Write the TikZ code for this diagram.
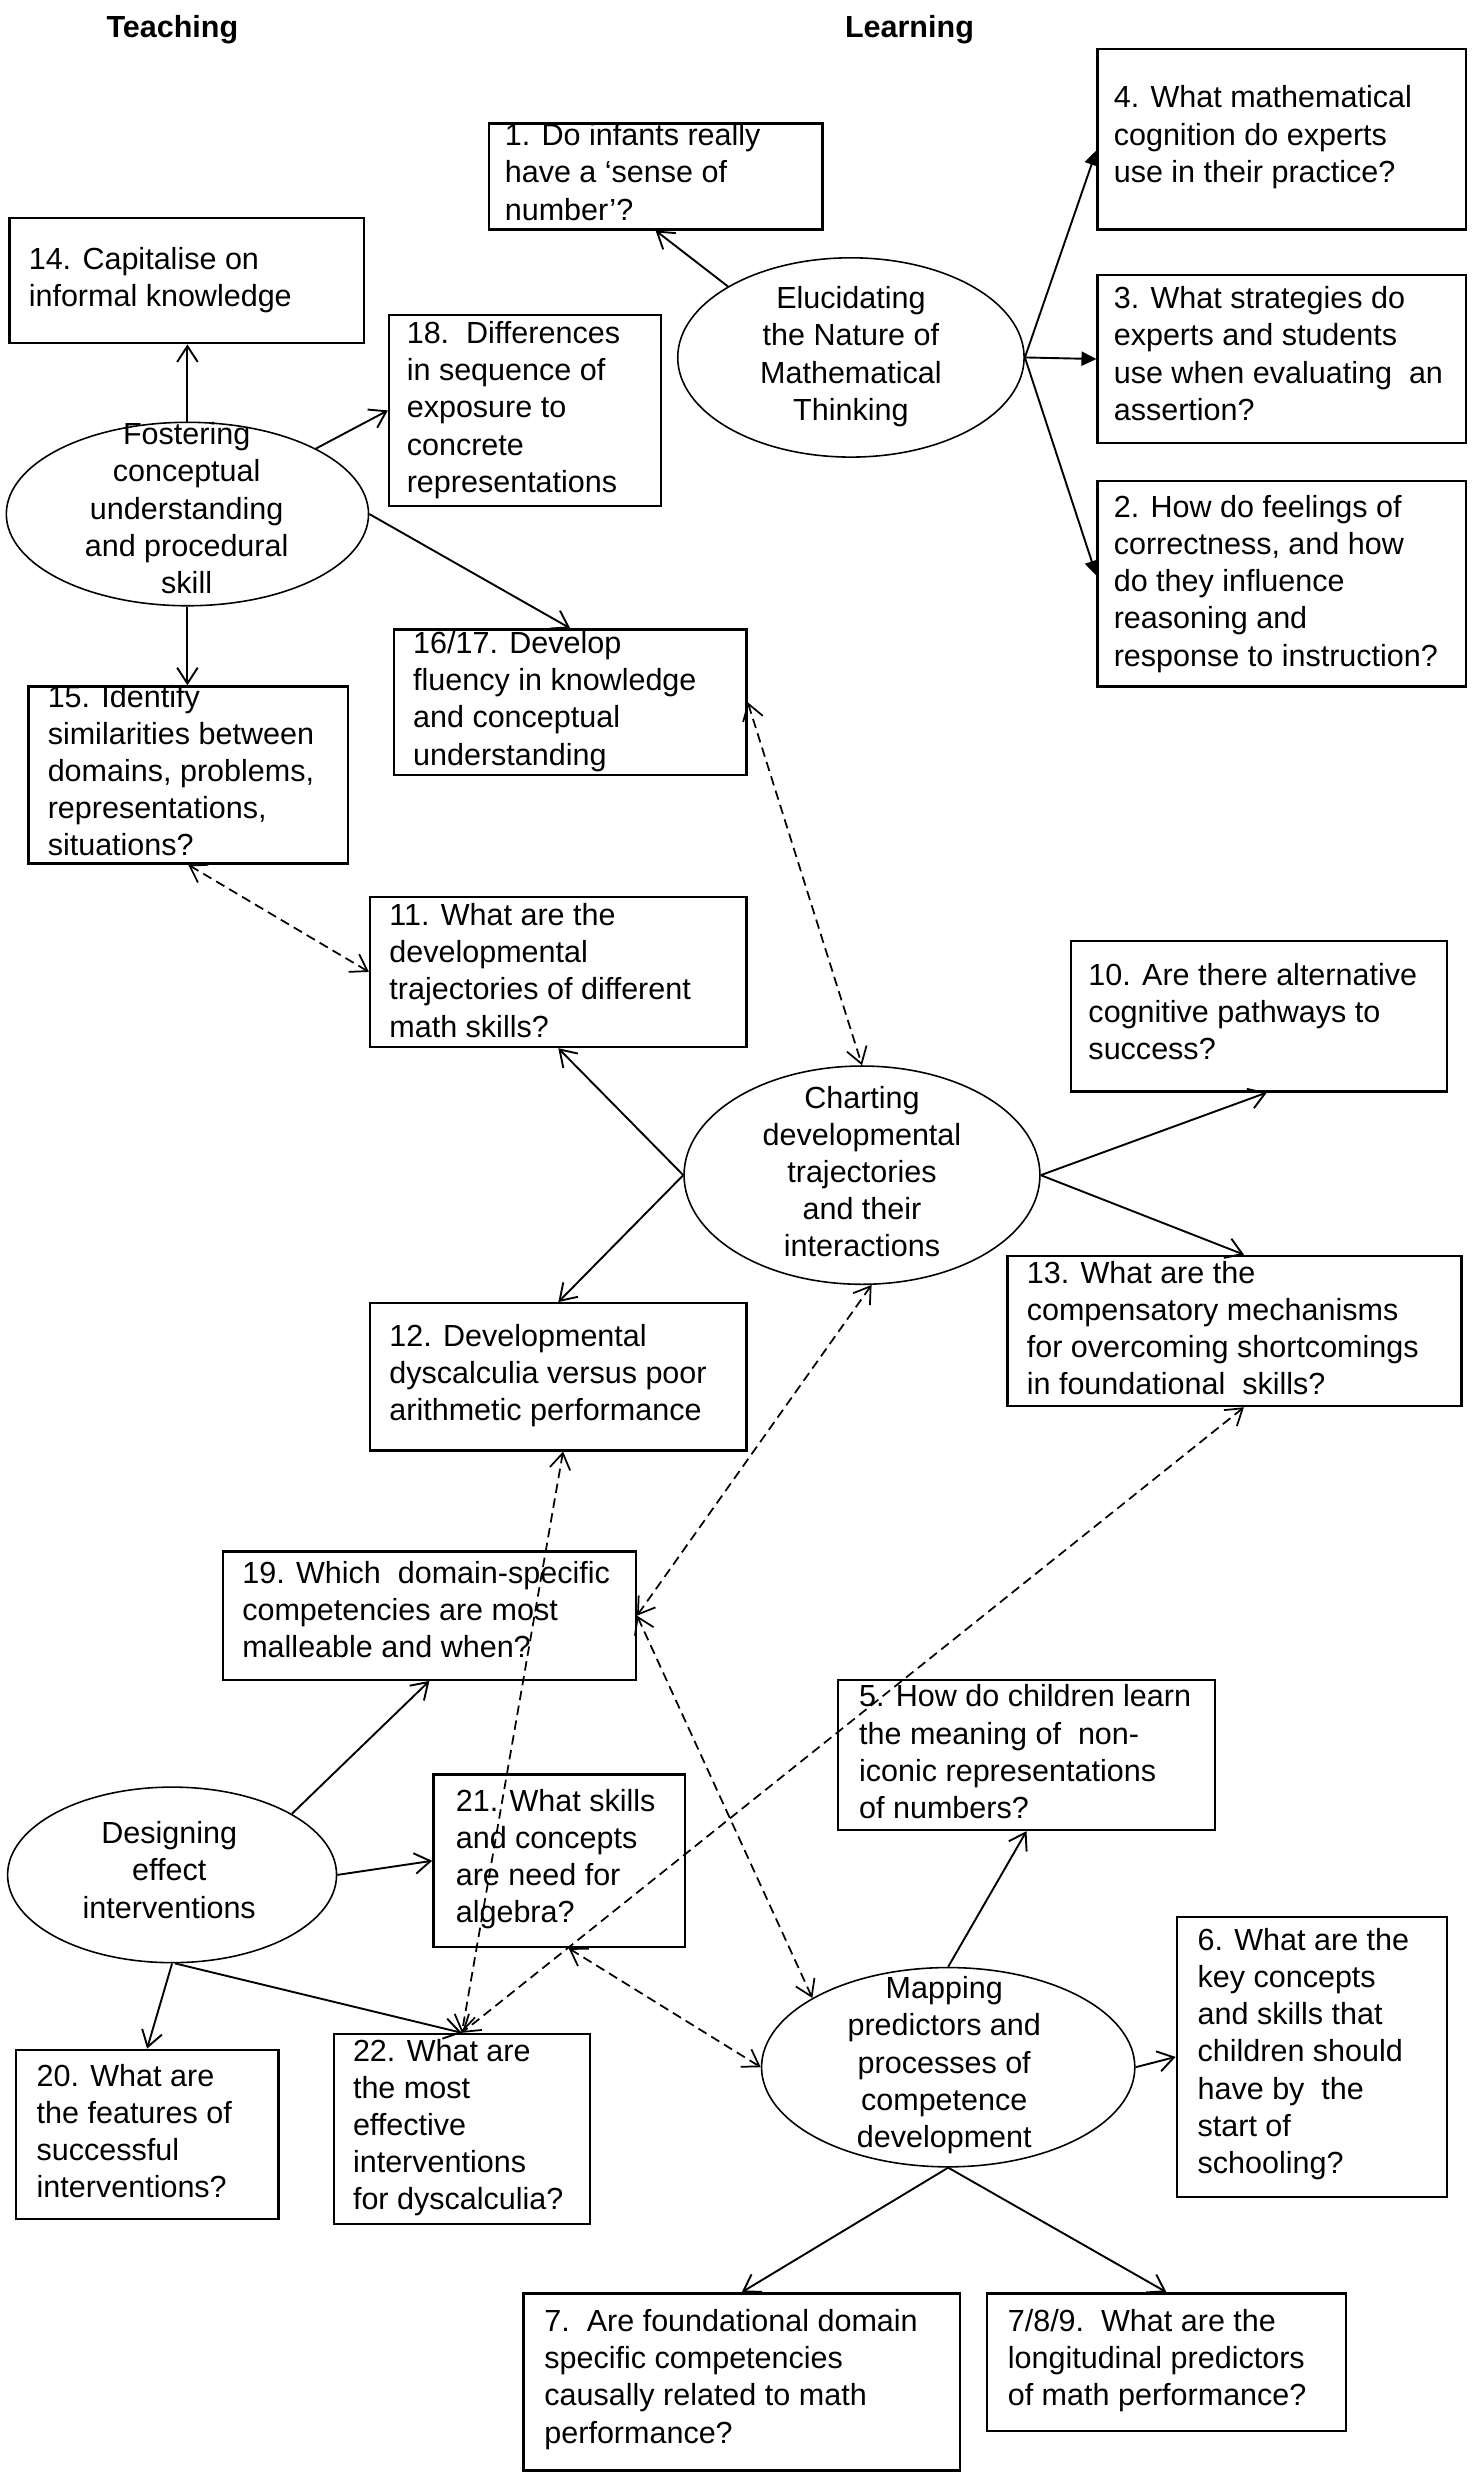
\documentclass[tikz,border=0pt]{standalone}
\usepackage{fontspec}
\setmainfont{Liberation Sans}
\usetikzlibrary{shapes.geometric, arrows.meta, calc, fit}
\newcommand\qfont{\fontsize{19.3}{23.5}\selectfont}
\begin{document}
\begin{tikzpicture}[x=1pt, y=-1pt,
  box/.style={draw, line width=1.5pt, inner sep=0pt},
  ell/.style={draw, ellipse, line width=1.0pt, inner sep=0pt},
  txt/.style={anchor=north west, inner sep=0pt, align=left, font=\qfont, execute at begin node=\rule{0pt}{18.5pt}},
  ctxt/.style={anchor=north, inner sep=0pt, align=center, font=\qfont, execute at begin node=\rule{0pt}{18.5pt}},
  ttl/.style={anchor=base, inner sep=0pt, font=\qfont\bfseries},
  barb/.tip={Straight Barb[length=10pt,width=13pt]},
  arr/.style={line width=1.2pt, -barb},
  farr/.style={line width=1.2pt, -{Triangle[length=9.5pt,width=9pt]}},
  darr/.style={line width=1.1pt, dash pattern=on 6pt off 3.5pt, barb-barb},
]
\useasboundingbox (0,0) rectangle (938,1568);

% titles
\node[ttl] (tteach) at (109,24) {Teaching};
\node[ttl] (tlearn) at (575,24) {Learning};

% boxes
\node[box, fit={(309,78) (520,145)}] (b1) {};
\node[txt] (t1) at (319,78) {1. Do infants really\\have a ‘sense of\\number’?};
\node[box, fit={(694,31) (927,145)}] (b4) {};
\node[txt] (t4) at (704,54) {4. What mathematical\\cognition do experts\\use in their practice?};
\node[box, fit={(694,174) (927,280)}] (b3) {};
\node[txt] (t3) at (704,181) {3. What strategies do\\experts and students\\use when evaluating\ \ an\\assertion?};
\node[box, fit={(694,304) (927,434)}] (b2) {};
\node[txt] (t2) at (704,313) {2. How do feelings of\\correctness, and how\\do they influence\\reasoning and\\response to instruction?};
\node[box, fit={(6,138) (230,217)}] (b14) {};
\node[txt] (t14) at (18,156) {14. Capitalise on\\informal knowledge};
\node[box, fit={(246,199) (418,320)}] (b18) {};
\node[txt] (t18) at (257,203) {18.\ \ Differences\\in sequence of\\exposure to\\concrete\\representations};
\node[box, fit={(249,398) (472,490)}] (b16) {};
\node[txt] (t16) at (261,399) {16/17. Develop\\fluency in knowledge\\and conceptual\\understanding};
\node[box, fit={(18,434) (220,546)}] (b15) {};
\node[txt] (t15) at (30,433) {15. Identify\\similarities between\\domains, problems,\\representations,\\situations?};
\node[box, fit={(234,567) (472,662)}] (b11) {};
\node[txt] (t11) at (246,571) {11. What are the\\developmental\\trajectories of different\\math skills?};
\node[box, fit={(677,595) (915,690)}] (b10) {};
\node[txt] (t10) at (688,609) {10. Are there alternative\\cognitive pathways to\\success?};
\node[box, fit={(637,794) (924,889)}] (b13) {};
\node[txt] (t13) at (649,797) {13. What are the\\compensatory mechanisms\\for overcoming shortcomings\\in foundational\ \ skills?};
\node[box, fit={(234,824) (472,917)}] (b12) {};
\node[txt] (t12) at (246,837) {12. Developmental\\dyscalculia versus poor\\arithmetic performance};
\node[box, fit={(141,981) (402,1062)}] (b19) {};
\node[txt] (t19) at (153,987) {19. Which\ \ domain-specific\\competencies are most\\malleable and when?};
\node[box, fit={(530,1062) (768,1157)}] (b5) {};
\node[txt] (t5) at (543,1065) {5. How do children learn\\the meaning of\ \ non-\\iconic representations\\of numbers?};
\node[box, fit={(274,1122) (433,1231)}] (b21) {};
\node[txt] (t21) at (288,1131) {21. What skills\\and concepts\\are need for\\algebra?};
\node[box, fit={(744,1212) (915,1389)}] (b6) {};
\node[txt] (t6) at (757,1219) {6. What are the\\key concepts\\and skills that\\children should\\have by\ \ the\\start of\\schooling?};
\node[box, fit={(10,1296) (176,1403)}] (b20) {};
\node[txt] (t20) at (23,1305) {20. What are\\the features of\\successful\\interventions?};
\node[box, fit={(211,1286) (373,1406)}] (b22) {};
\node[txt] (t22) at (223,1289) {22. What are\\the most\\effective\\interventions\\for dyscalculia?};
\node[box, fit={(331,1450) (607,1562)}] (b7) {};
\node[txt] (t7) at (344,1460) {7.\ \ Are foundational domain\\specific competencies\\causally related to math\\performance?};
\node[box, fit={(624,1450) (851,1537)}] (b789) {};
\node[txt] (t789) at (637,1460) {7/8/9.\ \ What are the\\longitudinal predictors\\of math performance?};

% ellipses
\node[ell, minimum width=219pt, minimum height=126pt] (elu) at (538,226) {};
\node[ctxt] (telu) at (538,181) {Elucidating\\the Nature of\\Mathematical\\Thinking};
\node[ell, minimum width=229pt, minimum height=116pt] (fos) at (118.5,325) {};
\node[ctxt] (tfos) at (118,267) {Fostering\\conceptual\\understanding\\and procedural\\skill};
\node[ell, minimum width=225pt, minimum height=138pt] (cha) at (545,743) {};
\node[ctxt] (tcha) at (545,686.5) {Charting\\developmental\\trajectories\\and their\\interactions};
\node[ell, minimum width=208pt, minimum height=111pt] (des) at (108.8,1185.4) {};
\node[ctxt] (tdes) at (107,1151.5) {Designing\\effect\\interventions};
\node[ell, minimum width=236pt, minimum height=126pt] (map) at (599.5,1307) {};
\node[ctxt] (tmap) at (597,1249.5) {Mapping\\predictors and\\processes of\\competence\\development};

% solid connectors
\draw[arr] (elu.150) -- (b1.south);
\draw[farr] (elu.east) -- ($(b4.west)+(0,7)$);
\draw[farr] (elu.east) -- (b3.west);
\draw[farr] (elu.east) -- ($(b2.west)+(0,-5)$);
\draw[arr] (fos.north) -- (fos.north |- b14.south);
\draw[arr] (fos.27) -- (b18.west);
\draw[arr] (fos.east) -- (b16.north);
\draw[arr] (fos.south) -- (fos.south |- b15.north);
\draw[arr] (cha.west) -- (b11.south);
\draw[arr] (cha.west) -- (b12.north);
\draw[arr] (cha.east) -- ($(b10.south)+(5,0)$);
\draw[arr] (cha.east) -- ($(b13.north)+(6,0)$);
\draw[arr] (des.27) -- (b19.south);
\draw[arr] (des.east) -- (b21.west);
\draw[arr] (des.south) -- (b20.north);
\draw[arr] (des.-88) -- (b22.north);
\draw[arr] (map.north) -- (b5.south);
\draw[arr] (map.east) -- (b6.west);
\draw[arr] (map.south) -- (b7.north);
\draw[arr] (map.south) -- (b789.north);

% dashed connectors
\draw[darr] (b15.south) -- (b11.west);
\draw[darr] (b16.east) -- (cha.north);
\draw[darr] (b19.east) -- (cha.-85);
\draw[darr] ($(b12.south)+(3,0)$) -- (b22.north);
\draw[darr] ($(b13.south)+(6,0)$) -- (b22.north);
\draw[darr] (b19.east) -- (map.153);
\draw[darr] ($(b21.south)+(6,0)$) -- (map.west);
\end{tikzpicture}
\end{document}
